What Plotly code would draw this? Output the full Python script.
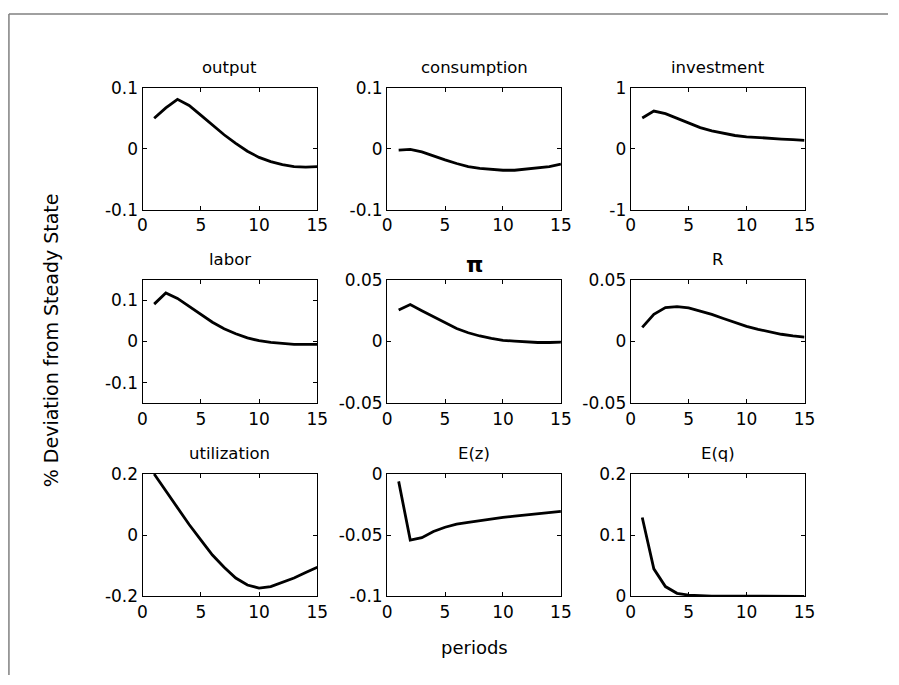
import plotly.graph_objects as go

periods = list(range(1, 16))

titles = ["output", "consumption", "investment",
          "labor", "<b>π</b>", "R",
          "utilization", "E(z)", "E(q)"]

output = [0.050, 0.067, 0.081, 0.071, 0.055, 0.039, 0.023, 0.009, -0.004,
          -0.014, -0.021, -0.026, -0.029, -0.030, -0.029]
consumption = [-0.002, -0.001, -0.005, -0.012, -0.018, -0.024, -0.029, -0.032,
               -0.034, -0.035, -0.035, -0.033, -0.031, -0.029, -0.025]
investment = [0.505, 0.617, 0.574, 0.495, 0.415, 0.346, 0.293, 0.250, 0.218,
              0.197, 0.181, 0.170, 0.160, 0.149, 0.138]
labor = [0.091, 0.118, 0.105, 0.085, 0.065, 0.047, 0.031, 0.019, 0.009,
         0.002, -0.002, -0.005, -0.007, -0.007, -0.007]
inflation = [0.0255, 0.0300, 0.0250, 0.0200, 0.0150, 0.0106, 0.0071, 0.0045,
             0.0026, 0.0010, 0.0003, -0.0005, -0.0008, -0.0008, -0.0005]
rate = [0.0115, 0.0220, 0.0275, 0.0283, 0.0273, 0.0249, 0.0220, 0.0187,
        0.0155, 0.0123, 0.0099, 0.0078, 0.0059, 0.0045, 0.0035]
utilization = [0.200, 0.145, 0.090, 0.035, -0.015, -0.065, -0.105, -0.140,
               -0.163, -0.173, -0.168, -0.155, -0.140, -0.122, -0.105]
ez = [-0.006, -0.054, -0.052, -0.047, -0.0435, -0.041, -0.0395, -0.038,
      -0.0368, -0.0355, -0.0344, -0.0333, -0.0322, -0.0314, -0.0306]
eq = [0.129, 0.045, 0.016, 0.005, 0.002, 0.001, 0.0005, 0.0003, 0.0002,
      0.0001, 0.0001, 0.0, 0.0, 0.0, 0.0]

series = [output, consumption, investment, labor, inflation, rate,
          utilization, ez, eq]

y_ranges = [[-0.1, 0.1], [-0.1, 0.1], [-1, 1],
            [-0.15, 0.15], [-0.05, 0.05], [-0.05, 0.05],
            [-0.2, 0.2], [-0.1, 0], [0, 0.2]]
y_tickvals = [[-0.1, 0, 0.1], [-0.1, 0, 0.1], [-1, 0, 1],
              [-0.1, 0, 0.1], [-0.05, 0, 0.05], [-0.05, 0, 0.05],
              [-0.2, 0, 0.2], [-0.1, -0.05, 0], [0, 0.1, 0.2]]
y_ticktext = [["-0.1", "0", "0.1"], ["-0.1", "0", "0.1"], ["-1", "0", "1"],
              ["-0.1", "0", "0.1"], ["-0.05", "0", "0.05"], ["-0.05", "0", "0.05"],
              ["-0.2", "0", "0.2"], ["-0.1", "-0.05", "0"], ["0", "0.1", "0.2"]]
x_tickvals = [0, 5, 10, 15]
x_ticktext = ["0", "5", "10", "15"]

W, H = 899, 685
col_px = [(140, 318), (389, 566), (637, 814)]
row_px = [(80, 206), (278, 405), (478, 604)]

FONT = "DejaVu Sans, sans-serif"
TICKFONT = dict(family=FONT, size=17, color="black")

fig = go.Figure()
annotations = []
for i, ys in enumerate(series):
    r, c = divmod(i, 3)
    n = "" if i == 0 else str(i + 1)
    xd = [col_px[c][0] / W, col_px[c][1] / W]
    yd = [1 - row_px[r][1] / H, 1 - row_px[r][0] / H]
    fig.add_trace(go.Scatter(x=periods, y=ys, mode="lines",
                             line=dict(color="black", width=2.8),
                             xaxis="x" + n, yaxis="y" + n,
                             showlegend=False, hoverinfo="skip"))
    common = dict(showline=True, linecolor="black", linewidth=1,
                  mirror="ticks", ticks="inside", ticklen=4, tickwidth=1,
                  tickcolor="black", showgrid=False, zeroline=False,
                  tickfont=TICKFONT)
    fig.layout["xaxis" + n] = dict(domain=xd, anchor="y" + n, range=[0, 15],
                                   tickmode="array", tickvals=x_tickvals,
                                   ticktext=x_ticktext, **common)
    fig.layout["yaxis" + n] = dict(domain=yd, anchor="x" + n,
                                   range=y_ranges[i], tickmode="array",
                                   tickvals=y_tickvals[i],
                                   ticktext=y_ticktext[i], **common)
    is_pi = "π" in titles[i]
    ty = row_px[r][0] - (16 if is_pi else 21)
    annotations.append(dict(text=titles[i], xref="paper", yref="paper",
                            x=(xd[0] + xd[1]) / 2, y=1 - ty / H,
                            xanchor="center", yanchor="middle",
                            showarrow=False,
                            font=dict(family=FONT, size=22 if is_pi else 16.5,
                                      color="black")))

annotations.append(dict(text="% Deviation from Steady State", xref="paper",
                        yref="paper", x=47 / W, y=1 - 340 / H,
                        textangle=-90, showarrow=False,
                        xanchor="center", yanchor="middle",
                        font=dict(family=FONT, size=19, color="black")))
annotations.append(dict(text="periods", xref="paper", yref="paper",
                        x=477.5 / W, y=1 - 657 / H, showarrow=False,
                        xanchor="center", yanchor="middle",
                        font=dict(family=FONT, size=18, color="black")))

shapes = [
    dict(type="line", xref="paper", yref="paper", x0=4 / W, x1=4 / W,
         y0=0, y1=1 - 4 / H, line=dict(color="#808080", width=1.5)),
    dict(type="line", xref="paper", yref="paper", x0=4 / W, x1=1,
         y0=1 - 4 / H, y1=1 - 4 / H, line=dict(color="#808080", width=1.5)),
]

fig.update_layout(autosize=True, margin=dict(l=0, r=0, t=0, b=0),
                  paper_bgcolor="white", plot_bgcolor="white",
                  annotations=annotations, shapes=shapes,
                  font=dict(family=FONT, color="black"))

fig.write_html(
    "out.html",
    config={"displayModeBar": False, "responsive": True},
    default_width="100vw",
    default_height="100vh",
    post_script=(
        "document.documentElement.style.margin='0';"
        "document.documentElement.style.padding='0';"
        "document.documentElement.style.overflow='hidden';"
        "document.body.style.margin='0';"
        "document.body.style.padding='0';"
        "document.body.style.overflow='hidden';"
        "var gd=document.getElementById('{plot_id}');"
        "gd.style.position='fixed';gd.style.left='0';gd.style.top='0';"
        "Plotly.Plots.resize(gd);"
    ),
)
